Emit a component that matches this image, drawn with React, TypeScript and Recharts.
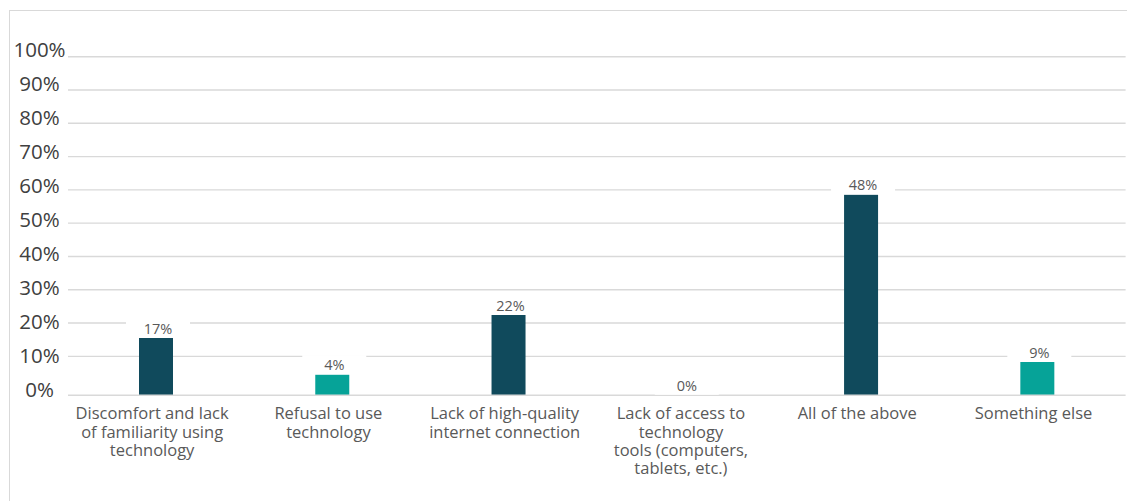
import React from 'react';
import { BarChart, Bar, XAxis, YAxis, CartesianGrid, Cell, LabelList } from 'recharts';

const categories = [
  'Discomfort and lack\nof familiarity using\ntechnology',
  'Refusal to use\ntechnology',
  'Lack of high-quality\ninternet connection',
  'Lack of access to\ntechnology\ntools (computers,\ntablets, etc.)',
  'All of the above',
  'Something else',
];
// bar lengths measured from the axis line, in gridline units (%)
const barValues = [17.2, 6.2, 24.1, 0, 60.2, 10];
const valueLabels = ['17%', '4%', '22%', '0%', '48%', '9%'];
const barColors = ['#104A5C', '#06A398', '#104A5C', '#104A5C', '#104A5C', '#06A398'];
const yTicks = [0, 10, 20, 30, 40, 50, 60, 70, 80, 90, 100];
const gridValues = [10, 20, 30, 40, 50, 60, 70, 80, 90, 100];
const AXIS_FLOOR = -1.7;

const data = categories.map((c, i) => ({ name: c, value: barValues[i], label: valueLabels[i] }));

const FONT = "'Open Sans', sans-serif";

const XTick = (props: any) => {
  const { x, y, payload } = props;
  const lines = String(payload.value).split('\n');
  return (
    <text textAnchor="middle" fontFamily={FONT} fontSize={16.5} fill="#595959">
      {lines.map((l, i) => (
        <tspan key={i} x={x - 4} y={y + 24 + i * 18.3}>{l}</tspan>
      ))}
    </text>
  );
};

const YTick = (props: any) => {
  const { x, y, payload } = props;
  const v = Number(payload.value);
  return (
    <text x={x - 28.5} y={y + (100 - v) * 0.071} textAnchor="middle" fontFamily={FONT} fontSize={20.5} fill="#404040">
      {`${v}%`}
    </text>
  );
};

const ValueLabel = (props: any) => {
  const { x, y, width, value } = props;
  const cx = Number(x) + Number(width) / 2 + 2;
  const base = Number(y) - 4.5;
  return (
    <g>
      <rect x={cx - 32} y={base - 15} width={64} height={19} fill="#ffffff" />
      <text x={cx} y={base} textAnchor="middle" fontFamily={FONT} fontSize={14.5} fill="#595959">
        {value}
      </text>
    </g>
  );
};

export default function App() {
  return (
    <div style={{ position: 'absolute', left: 0, top: 0, width: 1127, height: 501, overflow: 'hidden', background: '#ffffff' }}>
      <div style={{ position: 'absolute', left: 9, top: 10, width: 1120, height: 495, borderTop: '1.5px solid #d9d9d9', borderLeft: '1.5px solid #d9d9d9' }} />
      <div style={{ position: 'absolute', left: 0, top: 0 }}>
        <BarChart width={1127} height={501} data={data} margin={{ top: 56.7, right: 1.4, bottom: 0, left: 0 }}>
          <CartesianGrid vertical={false} horizontalValues={gridValues} stroke="#d9d9d9" strokeWidth={1.4} />
          <XAxis
            dataKey="name"
            height={105.7}
            interval={0}
            tickLine={false}
            tickSize={0}
            tickMargin={0}
            axisLine={{ stroke: '#d9d9d9', strokeWidth: 1.4 }}
            tick={<XTick />}
          />
          <YAxis
            type="number"
            domain={[AXIS_FLOOR, 100]}
            allowDataOverflow
            ticks={yTicks}
            width={68}
            axisLine={false}
            tickLine={false}
            tickSize={0}
            tickMargin={0}
            tick={<YTick />}
          />
          <Bar
            dataKey={(d: any) => [AXIS_FLOOR, AXIS_FLOOR + d.value]}
            barSize={34}
            minPointSize={0.01}
            isAnimationActive={false}
          >
            {data.map((d, i) => (
              <Cell key={i} fill={barColors[i]} />
            ))}
            <LabelList dataKey="label" content={<ValueLabel />} />
          </Bar>
        </BarChart>
      </div>
    </div>
  );
}
